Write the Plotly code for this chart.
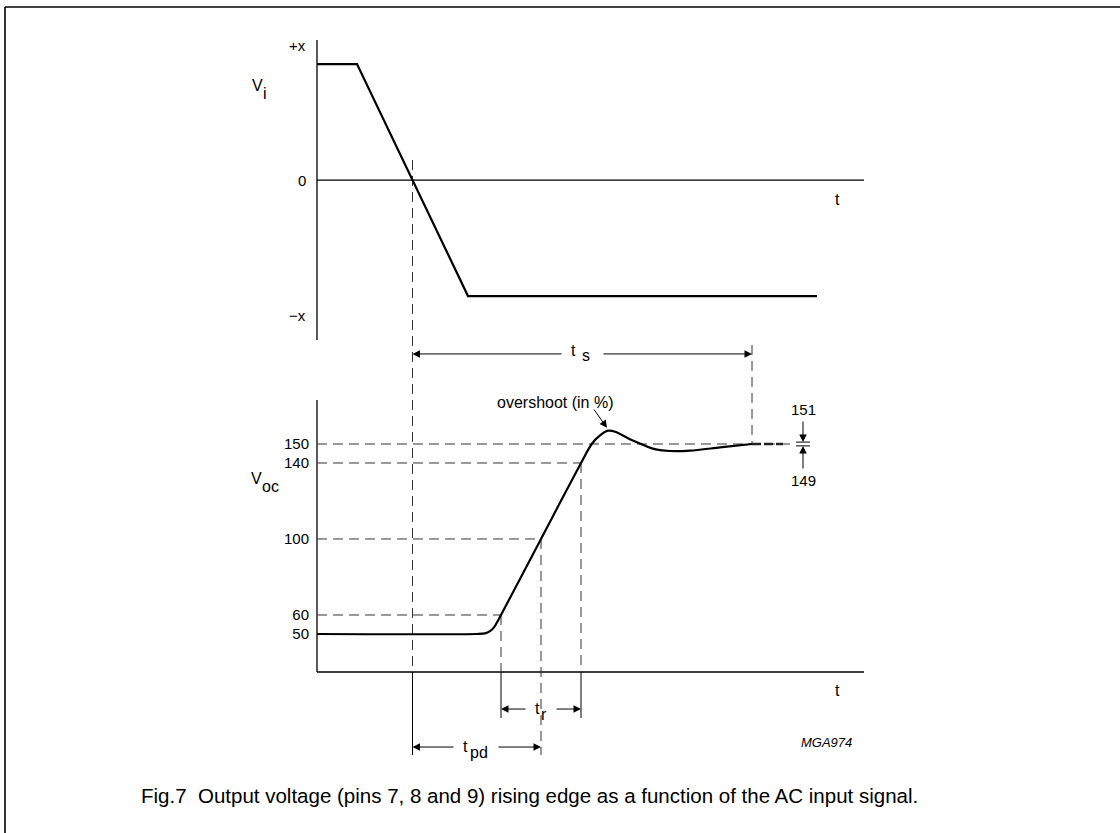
import plotly.graph_objects as go

# ---------------------------------------------------------------- data
# time base (arbitrary units) starts at the vertical axes
vi_t = [0, 40, 151, 500]
vi_v = [1, 1, -1, -1]                      # +x ... -x

voc_t = [0, 160, 168, 173, 177, 184, 224, 264, 274.7, 283, 291, 299, 311,
         324, 335, 353, 373, 403, 435]
voc_v = [50, 50, 50.3, 51.5, 53.5, 60, 100, 140, 150, 154.5, 157, 156.3, 153,
         150, 147.7, 146.3, 146.5, 148.2, 150]
voc_tail_t = [435, 466]
voc_tail_v = [150, 150]

voc_ticks = [50, 60, 100, 140, 150]
band_lo, band_hi = 149, 151
vi_labels = ["+x", "0", "\u2212x"]

# -------------------------------------------------------------- layout constants
X_RANGE = [-317, 803]
VI_RANGE = [-5.629, 1.552]
VOC_RANGE = [-54.74, 383.68]
T_AXIS_END = 547
VI_AXIS = (1.207, -1.379)
VOC_AXIS = (173.2, 30)

FONT = "Liberation Sans, Arial, Helvetica, sans-serif"
DASH = dict(color="#333333", width=1, dash="10px,6px")
SOLID_THIN = dict(color="black", width=1)

# derived instants
t_cross = vi_t[1] + vi_v[1] / (vi_v[1] - vi_v[2]) * (vi_t[2] - vi_t[1])
t60 = voc_t[voc_v.index(60)]
t100 = voc_t[voc_v.index(100)]
t140 = voc_t[voc_v.index(140)]
t_settle = voc_tail_t[0]

fig = go.Figure()

# waveforms
fig.add_trace(go.Scatter(x=vi_t, y=vi_v, mode="lines", yaxis="y",
                         line=dict(color="black", width=2.2), hoverinfo="skip"))
fig.add_trace(go.Scatter(x=voc_t, y=voc_v, mode="lines", yaxis="y2",
                         line=dict(color="black", width=2.2, shape="spline", smoothing=0.8),
                         hoverinfo="skip"))
fig.add_trace(go.Scatter(x=voc_tail_t, y=voc_tail_v, mode="lines", yaxis="y2",
                         line=dict(color="#222222", width=2.4, dash="9px,3px"),
                         hoverinfo="skip"))


def seg(x0, y0, x1, y1, yref, line):
    fig.add_shape(type="line", xref="x", yref=yref, x0=x0, y0=y0, x1=x1, y1=y1,
                  line=line, layer="below")


# axes
AX = dict(color="black", width=1.3)
seg(0, VI_AXIS[0], 0, VI_AXIS[1], "y", AX)
seg(0, 0, T_AXIS_END, 0, "y", AX)
seg(0, VOC_AXIS[0], 0, VOC_AXIS[1], "y2", AX)
seg(0, VOC_AXIS[1], T_AXIS_END, VOC_AXIS[1], "y2", AX)

# level guides
seg(0, 150, 473, 150, "y2", DASH)
seg(0, 140, t140, 140, "y2", DASH)
seg(0, 100, t100, 100, "y2", DASH)
seg(0, 60, t60, 60, "y2", DASH)

# timing guides
TS_Y, TR_Y, TPD_Y = 197.4, 10.5, -9.5
seg(t_cross, 299.5, t_cross, VOC_AXIS[1], "y2", DASH)
seg(t_cross, VOC_AXIS[1], t_cross, TPD_Y - 4.2, "y2", SOLID_THIN)
seg(t60, 60, t60, VOC_AXIS[1], "y2", DASH)
seg(t60, VOC_AXIS[1], t60, TR_Y - 4.7, "y2", SOLID_THIN)
seg(t140, 140, t140, VOC_AXIS[1], "y2", DASH)
seg(t140, VOC_AXIS[1], t140, TR_Y - 4.7, "y2", SOLID_THIN)
seg(t100, 100, t100, TPD_Y - 4.2, "y2", DASH)
seg(t_settle, 202.1, t_settle, 150, "y2", DASH)

# settling band marks
seg(479, band_hi, 493, band_hi, "y2", SOLID_THIN)
seg(479, band_lo, 493, band_lo, "y2", SOLID_THIN)

annotations = []


def arrow(xh, yh, xt, yt, yref="y2"):
    annotations.append(dict(x=xh, y=yh, ax=xt, ay=yt, xref="x", yref=yref,
                            axref="x", ayref=yref, text="", showarrow=True,
                            arrowhead=2, arrowsize=1.5, arrowwidth=1,
                            arrowcolor="black", standoff=0, startstandoff=0))


def label(x, y, text, yref="y2", size=16, xanchor="center", italic=False,
          xshift=0, yshift=0):
    annotations.append(dict(x=x, y=y, xref="x", yref=yref, text=text,
                            showarrow=False, xanchor=xanchor, yanchor="middle",
                            xshift=xshift, yshift=yshift, borderpad=0,
                            font=dict(family=FONT, size=size, color="black",
                                      style="italic" if italic else "normal")))


def symbol(x, y, main, sub, yref="y2", size=16, gap=1, up=0, down=6):
    """Symbol with a full-size, lowered index, split at x."""
    label(x, y, main, yref=yref, size=size, xanchor="right", xshift=-gap / 2, yshift=up)
    label(x, y, sub, yref=yref, size=size, xanchor="left", xshift=gap / 2, yshift=-down)


# t_s
arrow(t_cross, TS_Y, 246, TS_Y)
arrow(t_settle, TS_Y, 285, TS_Y)
symbol(262, TS_Y, "t", "s", gap=4, up=3, down=2)
# t_r
arrow(t60, TR_Y, 210, TR_Y)
arrow(t140, TR_Y, 238, TR_Y)
symbol(223.5, TR_Y, "t", "r", gap=-1, up=1, down=5)
# t_pd
arrow(t_cross, TPD_Y, 138, TPD_Y)
arrow(t100, TPD_Y, 180, TPD_Y)
symbol(152, TPD_Y, "t", "pd", gap=0, up=1, down=5)

# overshoot
label(238, 172.1, "overshoot (in %)")
arrow(290, 158.5, 276, 168.9)

# 151 / 149 band
label(486, 168.4, "151", size=15)
arrow(486, band_hi, 486, 162.6)
label(486, 131.0, "149", size=15)
arrow(486, band_lo, 486, 136.3)

# axis names and time labels
label(-10, 1.164, vi_labels[0], yref="y", xanchor="right", size=15)
label(-10, 0, vi_labels[1], yref="y", xanchor="right", size=15)
label(-10, -1.172, vi_labels[2], yref="y", xanchor="right", size=15)
symbol(-54.5, 0.819, "V", "i", yref="y", gap=-2, up=0, down=8)
symbol(-55, 131.6, "V", "oc", gap=-2, up=0, down=8)
label(520, -0.164, "t", yref="y")
label(520, 20.5, "t")
label(509, -7.0, "MGA974", size=13, italic=True)

# caption
annotations.append(dict(x=529 / 1120, y=1 - 795 / 833, xref="paper", yref="paper",
                        text="Fig.7  Output voltage (pins 7, 8 and 9) rising edge as a "
                             "function of the AC input signal.",
                        showarrow=False, xanchor="center", yanchor="middle",
                        font=dict(family=FONT, size=20.5, color="black")))

# frame
fig.add_shape(type="line", xref="paper", yref="paper", x0=5 / 1120, y0=1 - 7 / 833,
              x1=1.01, y1=1 - 7 / 833, line=dict(color="black", width=1.6))
fig.add_shape(type="line", xref="paper", yref="paper", x0=5 / 1120, y0=1 - 7 / 833,
              x1=5 / 1120, y1=-0.01, line=dict(color="black", width=1.6))

fig.update_layout(
    width=1120, height=833,
    margin=dict(l=0, r=0, t=0, b=0),
    paper_bgcolor="white", plot_bgcolor="white",
    showlegend=False,
    font=dict(family=FONT, size=15, color="black"),
    xaxis=dict(domain=[0, 1], range=X_RANGE, visible=False, fixedrange=True),
    yaxis=dict(domain=[0, 1], range=VI_RANGE, anchor="free", position=317 / 1120,
               showgrid=False, zeroline=False, showline=False,
               tickvals=[], fixedrange=True),
    yaxis2=dict(domain=[0, 1], range=VOC_RANGE, overlaying="y", anchor="free",
                position=317 / 1120, side="left",
                showgrid=False, zeroline=False, showline=False,
                tickvals=voc_ticks, ticktext=[str(v) for v in voc_ticks],
                ticks="", ticklabelstandoff=8,
                tickfont=dict(family=FONT, size=15, color="black"), fixedrange=True),
    annotations=annotations,
)

fig.write_html("out.html", config={"displayModeBar": False})
